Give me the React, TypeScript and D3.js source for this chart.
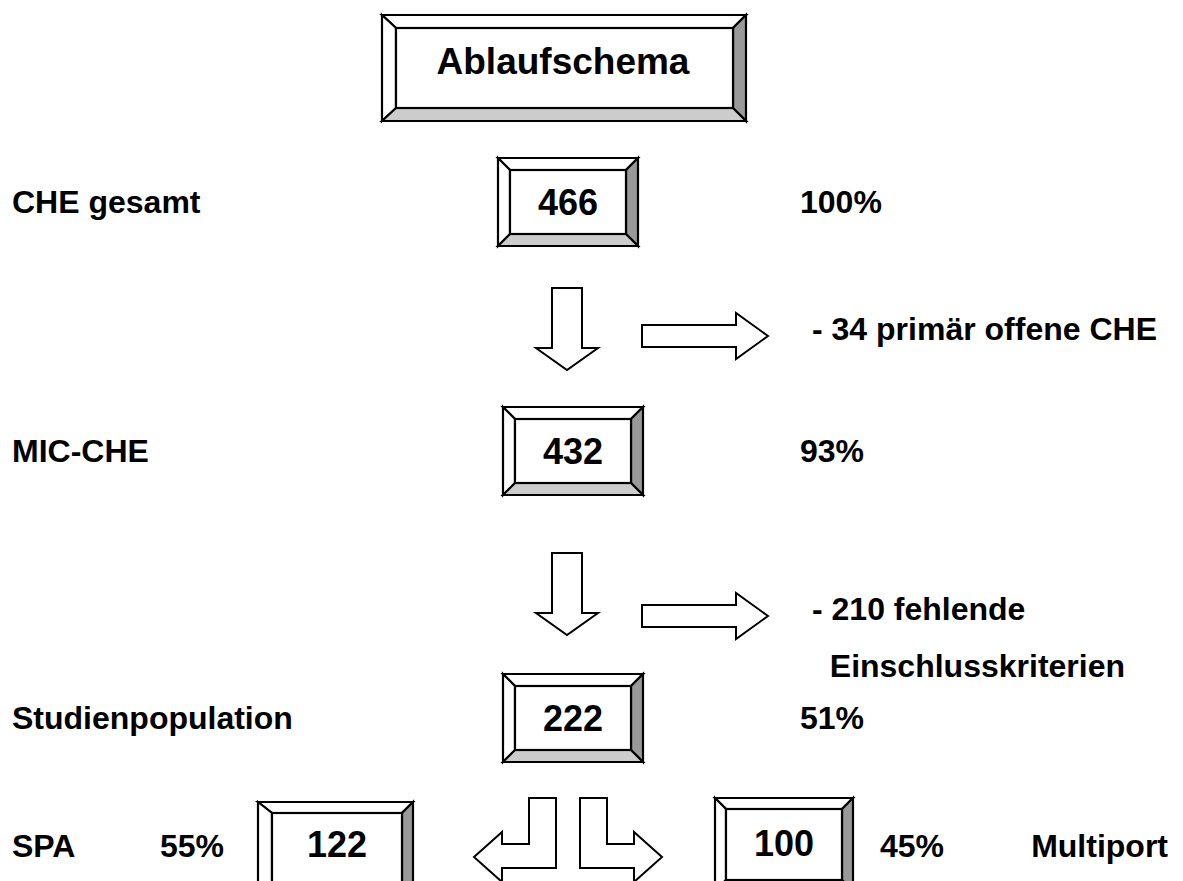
import React from "react";
import * as d3 from "d3";

// flow data
const stageNames = ["CHE gesamt", "MIC-CHE", "Studienpopulation"];
const stageCounts = [466, 432, 222];
const stagePercents = ["100%", "93%", "51%"];
const exclusionLines = [["- 34 primär offene CHE"], ["- 210 fehlende", "  Einschlusskriterien"]];
const splitNames = ["SPA", "Multiport"];
const splitCounts = [122, 100];
const splitPercents = ["55%", "45%"];

const W = 1183,
  H = 881;
const FONT = "'Liberation Sans', Arial, sans-serif";

// vertical centre of each stage row
const rowY = d3.scaleOrdinal<number, number>().domain([0, 1, 2]).range([202, 451, 718]);

type Box = { x0: number; y0: number; x1: number; y1: number; b: number; bl?: number };

const BevelBox = ({ x0, y0, x1, y1, b, bl }: Box) => {
  const l = bl ?? b;
  const ix0 = x0 + l,
    iy0 = y0 + b,
    ix1 = x1 - b,
    iy1 = y1 - b;
  const poly = (pts: number[][]) => pts.map((p) => p.join(",")).join(" ");
  const st = { stroke: "#000", strokeWidth: 2.2, strokeLinejoin: "miter" as const };
  return (
    <g>
      <polygon points={poly([[x0, y0], [x1, y0], [ix1, iy0], [ix0, iy0]])} fill="#fff" {...st} />
      <polygon points={poly([[x0, y0], [ix0, iy0], [ix0, iy1], [x0, y1]])} fill="#fff" {...st} />
      <polygon points={poly([[x1, y0], [x1, y1], [ix1, iy1], [ix1, iy0]])} fill="#999" {...st} />
      <polygon points={poly([[x0, y1], [ix0, iy1], [ix1, iy1], [x1, y1]])} fill="#ccc" {...st} />
      <rect x={ix0} y={iy0} width={ix1 - ix0} height={iy1 - iy0} fill="#fff" {...st} />
    </g>
  );
};

const arrowStyle = { fill: "#fff", stroke: "#000", strokeWidth: 2 };

const DownArrow = ({ cx, top }: { cx: number; top: number }) => {
  const p = d3.path();
  p.moveTo(cx - 15, top);
  p.lineTo(cx + 15, top);
  p.lineTo(cx + 15, top + 60);
  p.lineTo(cx + 31, top + 60);
  p.lineTo(cx, top + 82);
  p.lineTo(cx - 31, top + 60);
  p.lineTo(cx - 15, top + 60);
  p.closePath();
  return <path d={p.toString()} {...arrowStyle} />;
};

const RightArrow = ({ x, cy }: { x: number; cy: number }) => {
  const p = d3.path();
  p.moveTo(x, cy - 11);
  p.lineTo(x + 94, cy - 11);
  p.lineTo(x + 94, cy - 23);
  p.lineTo(x + 126, cy);
  p.lineTo(x + 94, cy + 23);
  p.lineTo(x + 94, cy + 11);
  p.lineTo(x, cy + 11);
  p.closePath();
  return <path d={p.toString()} {...arrowStyle} />;
};

// bent arrow: vertical stem then sideways head; dir -1 = left, 1 = right
// farX is the stem edge on the side away from the head
const BentArrow = ({ farX, dir }: { farX: number; dir: number }) => {
  const top = 798,
    barTop = 844,
    barBot = 868,
    cy = 857;
  const near = farX + dir * 27;
  const base = near + dir * 27;
  const tip = base + dir * 28;
  const p = d3.path();
  p.moveTo(near, top);
  p.lineTo(farX, top);
  p.lineTo(farX, barBot);
  p.lineTo(base, barBot);
  p.lineTo(base, cy + 25);
  p.lineTo(tip, cy);
  p.lineTo(base, cy - 25);
  p.lineTo(base, barTop);
  p.lineTo(near, barTop);
  p.closePath();
  return <path d={p.toString()} {...arrowStyle} />;
};

const Label = ({ x, y, t, size = 32, anchor = "start" }: any) => (
  <text x={x} y={y} fontFamily={FONT} fontWeight="bold" fontSize={size} textAnchor={anchor} style={{ whiteSpace: "pre" }}>
    {t}
  </text>
);

const App = () => {
  return (
    <svg width={W} height={H} style={{ position: "absolute", left: 0, top: 0, background: "#fff" }}>
      {/* title */}
      <BevelBox x0={382} y0={15} x1={746} y1={121} b={13} bl={14} />
      <Label x={563} y={74} t="Ablaufschema" size={37} anchor="middle" />

      {stageCounts.map((c, i) => {
        const cy = rowY(i);
        const x0 = i === 0 ? 498 : 503;
        return (
          <g key={c}>
            <BevelBox x0={x0} y0={cy - 44} x1={x0 + 140} y1={cy + 44} b={12} />
            <Label x={x0 + 70} y={cy + 13} t={String(c)} size={36} anchor="middle" />
            <Label x={12} y={cy + 11} t={stageNames[i]} />
            <Label x={800} y={cy + 11} t={stagePercents[i]} />
          </g>
        );
      })}

      {exclusionLines.map((lines, i) => {
        const down = i === 0 ? 288 : 553;
        const cy = i === 0 ? 336 : 616;
        return (
          <g key={i}>
            <DownArrow cx={567} top={down} />
            <RightArrow x={642} cy={cy} />
            {lines.map((t, j) => (
              <Label key={j} x={812} y={cy + 4 + j * 57} t={t} />
            ))}
          </g>
        );
      })}

      {/* split */}
      <BentArrow farX={556} dir={-1} />
      <BentArrow farX={580} dir={1} />
      <BevelBox x0={258} y0={802} x1={413} y1={895} b={11} bl={14} />
      <Label x={337} y={857} t={String(splitCounts[0])} size={36} anchor="middle" />
      <BevelBox x0={715} y0={798} x1={853} y1={891} b={11} />
      <Label x={784} y={856} t={String(splitCounts[1])} size={36} anchor="middle" />
      <Label x={12} y={857} t={splitNames[0]} />
      <Label x={160} y={857} t={splitPercents[0]} />
      <Label x={880} y={857} t={splitPercents[1]} />
      <Label x={1168} y={857} t={splitNames[1]} anchor="end" />
    </svg>
  );
};

export default App;
